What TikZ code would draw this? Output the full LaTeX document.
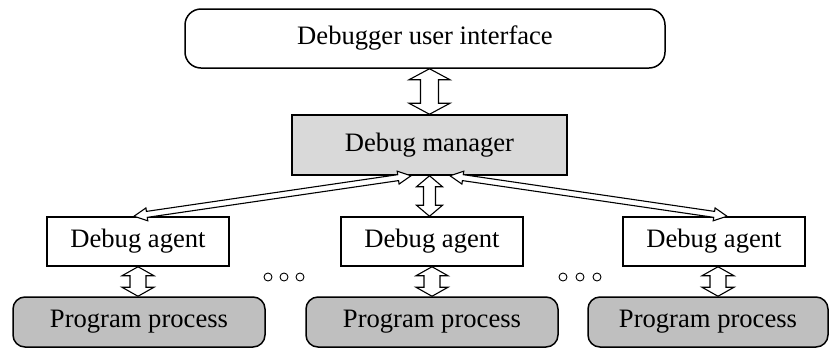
\documentclass[tikz,border=0pt]{standalone}
\usepackage{fontspec}
\setmainfont{Liberation Serif}
\usetikzlibrary{calc}
\newcommand\blkarrow[6]{%
\draw[#1] (#2) -- ($(#2)!#6!(#3)!#4!90:(#3)$) -- ($(#2)!#6!(#3)!#5!90:(#3)$) -- ($(#3)!#6!(#2)!#5!-90:(#2)$) -- ($(#3)!#6!(#2)!#4!-90:(#2)$) -- (#3) -- ($(#3)!#6!(#2)!#4!90:(#2)$) -- ($(#3)!#6!(#2)!#5!90:(#2)$) -- ($(#2)!#6!(#3)!#5!-90:(#3)$) -- ($(#2)!#6!(#3)!#4!-90:(#3)$) -- cycle;}
\begin{document}
\begin{tikzpicture}[x=1pt,y=-1pt,
  box/.style={draw, line width=1.5pt, inner sep=0pt, font=\fontsize{26.6}{32}\selectfont},
  uibox/.style={box, rounded corners=16pt, minimum width=480pt, minimum height=59pt},
  mgrbox/.style={box, fill=gray!30, minimum width=275pt, minimum height=60pt},
  agentbox/.style={box, minimum width=182pt, minimum height=49pt},
  procbox/.style={box, fill=gray!50, rounded corners=12pt, minimum height=50pt},
  harrow/.style={draw, fill=white, line width=1.1pt, line join=miter},
  dot/.style={circle, draw, line width=0.9pt, inner sep=0pt, minimum size=8pt}]
\useasboundingbox (0,0) rectangle (830,349);
\node[uibox] (ui) at (425,38.5) {Debugger user interface};
\node[mgrbox] (dm) at (429.5,145) {Debug manager};
\node[agentbox] (a1) at (138,241.5) {Debug agent};
\node[agentbox] (a2) at (432,241.5) {Debug agent};
\node[agentbox] (a3) at (714,241.5) {Debug agent};
\node[procbox, minimum width=252pt] (p1) at (139,322) {Program process};
\node[procbox, minimum width=252pt] (p2) at (432,322) {Program process};
\node[procbox, minimum width=240pt] (p3) at (708,322) {Program process};
\node[dot] (d1) at (268,277) {};
\node[dot] (d2) at (284,277) {};
\node[dot] (d3) at (300,277) {};
\node[dot] (d4) at (563,277) {};
\node[dot] (d5) at (580,277) {};
\node[dot] (d6) at (597,277) {};
\coordinate (t1) at (ui.south -| dm.north);
\coordinate (m1) at (dm.south |- a2.north);
\coordinate (ml) at ($(dm.south)+(-18.5,0)$);
\coordinate (mr) at ($(dm.south)+(20.5,0)$);
\coordinate (al) at ($(a1.north)+(-4,0)$);
\coordinate (ar) at ($(a3.north)+(13,0)$);
\coordinate (b1) at (a1.south |- p1.north);
\coordinate (b2) at (a2.south |- p2.north);
\coordinate (b3) at ($(a3.south)+(4,0)$);
\coordinate (b3e) at (b3 |- p3.north);
\blkarrow{harrow}{t1}{dm.north}{20.5pt}{9pt}{11pt}
\blkarrow{harrow}{dm.south}{m1}{13pt}{6pt}{11pt}
\blkarrow{harrow}{a1.south}{b1}{16pt}{8pt}{9pt}
\blkarrow{harrow}{a2.south}{b2}{16pt}{8pt}{9pt}
\blkarrow{harrow}{b3}{b3e}{16pt}{8pt}{9pt}
\blkarrow{harrow}{ml}{al}{6.5pt}{3pt}{13pt}
\blkarrow{harrow}{mr}{ar}{6.5pt}{3pt}{13pt}
\end{tikzpicture}
\end{document}
